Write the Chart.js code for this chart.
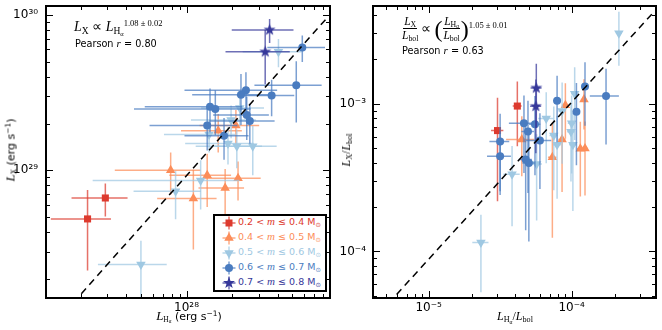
<!DOCTYPE html>
<html><head><meta charset="utf-8">
<script src="https://cdn.jsdelivr.net/npm/chart.js@4.4.1/dist/chart.umd.min.js"></script>
<style>
html,body{margin:0;padding:0;background:#fff}
body{width:662px;height:330px;position:relative;overflow:hidden;font-family:'DejaVu Sans',sans-serif;color:#000}
canvas{position:absolute;top:0}
.abs{position:absolute;white-space:nowrap}
.mi{font-family:'Liberation Serif',serif;font-style:italic}
.rm{font-family:'Liberation Serif',serif;font-style:normal}
sub{font-size:0.68em;vertical-align:-0.28em;line-height:0}
sup{font-size:0.68em;vertical-align:0.5em;line-height:0}
.frac{display:inline-flex;flex-direction:column;align-items:center;vertical-align:middle;line-height:11px}
.frac .num{border-bottom:1px solid #000;padding:0 1px 1px}
.frac .den{padding:1px 1px 0}
</style></head><body>
<canvas id="c1" width="336" height="330" style="left:0"></canvas>
<canvas id="c2" width="326" height="330" style="left:336px"></canvas>

<!-- left panel annotation -->
<div class="abs rm" style="left:74px;top:20px;font-size:14px;line-height:14px"><span class="mi">L</span><sub>X</sub> ∝ <span class="mi">L</span><sub>H<sub>α</sub></sub><sup style="font-size:8.5px;vertical-align:0.55em">1.08 ± 0.02</sup></div>
<div class="abs" style="left:75px;top:38px;font-size:9.7px;line-height:10px">Pearson <span class="mi" style="font-size:11px">r</span> = 0.80</div>

<!-- right panel annotation -->
<div class="abs rm" style="left:401px;top:16px;font-size:11.5px;display:flex;align-items:center;line-height:11px">
  <span class="frac"><span class="num"><span class="mi">L</span><sub>X</sub></span><span class="den"><span class="mi">L</span><sub>bol</sub></span></span>
  <span style="font-size:14px;margin:0 3px 0 2px">∝</span>
  <span style="font-size:24px;line-height:24px">(</span>
  <span class="frac"><span class="num"><span class="mi">L</span><sub>H<sub>α</sub></sub></span><span class="den"><span class="mi">L</span><sub>bol</sub></span></span>
  <span style="font-size:24px;line-height:24px">)</span>
  <span style="align-self:flex-start;font-size:8.5px;margin-top:4px">1.05 ± 0.01</span>
</div>
<div class="abs" style="left:402px;top:45px;font-size:9.7px;line-height:10px">Pearson <span class="mi" style="font-size:11px">r</span> = 0.63</div>

<!-- axis titles -->
<div class="abs" style="left:11px;top:150px;font-size:11px;line-height:12px;transform:translate(-50%,-50%) rotate(-90deg)"><span class="mi" style="font-size:13px">L</span><sub class="rm">X</sub> (erg s<sup>−1</sup>)</div>
<div class="abs" style="left:189px;top:310px;font-size:11px;line-height:12px;transform:translateX(-50%)"><span class="mi" style="font-size:13px">L</span><sub class="rm">H<sub>α</sub></sub> (erg s<sup>−1</sup>)</div>
<div class="abs rm" style="left:346px;top:150px;font-size:12px;line-height:12px;transform:translate(-50%,-50%) rotate(-90deg)"><span class="mi">L</span><sub>X</sub>/<span class="mi">L</span><sub>bol</sub></div>
<div class="abs rm" style="left:515px;top:310px;font-size:12px;line-height:12px;transform:translateX(-50%)"><span class="mi">L</span><sub>H<sub>α</sub></sub>/<span class="mi">L</span><sub>bol</sub></div>

<div id="leg" class="abs" style="left:213px;top:214px;width:114px;height:78px;border:2px solid #000;box-sizing:border-box;background:#fff"></div>

<script>
// ---------------- data ----------------
// each entry: [x, y, xErr, yErr]  (symmetric linear errors)
const leftRed = [[2.91e27,6.64e28,1.17e27,1.6e28],[2.22e27,4.87e28,0.95e27,2.6e28]];
const leftOrange = [
 [7.86e27,1.0e29,4.5e27,3e28],[1.37e28,9.3e28,6e27,3.5e28],[2.19e28,8.9e28,9e27,2.5e28],
 [1.8e28,7.7e28,6e27,2.5e28],[1.11e28,6.6e28,4.7e27,3.5e28],[1.62e28,1.8e29,7e27,5e28],
 [2.12e28,1.94e29,9e27,5e28]];
const leftLightBlue = [
 [4.05e28,5.8e29,1.7e28,1.2e29],[2.25e28,2.52e29,1.0e28,6e28],[1.97e28,2.11e29,9e27,5e28],
 [1.41e28,1.70e29,7e27,4e28],[1.88e28,1.49e29,9e27,4e28],[2.15e28,1.43e29,1.0e28,4e28],
 [2.74e28,1.43e29,1.2e28,5e28],[1.24e28,8.6e28,1.0e28,3e28],[8.47e27,7.35e28,4e27,2.5e28],
 [5.0e27,2.48e28,2.4e27,1.05e28]];
const leftBlue = [
 [5.82e28,6.17e29,2.4e28,1.2e29],[5.31e28,3.53e29,2.5e28,1.5e29],[3.65e28,3.03e29,1.5e28,8e28],
 [2.47e28,3.28e29,1.5e28,1.0e29],[2.29e28,3.06e29,1.2e28,1.1e29],[1.43e28,2.56e29,9e27,8e28],
 [1.55e28,2.48e29,1.1e28,8e28],[2.5e28,2.27e29,1.0e28,7e28],[2.62e28,2.08e29,1.2e28,6e28],
 [1.37e28,1.94e29,8e27,6e28],[1.77e28,1.67e29,8e27,5e28]];
const leftNavy = [[3.54e28,8.0e29,1.55e28,1.4e29],[3.31e28,5.78e29,1.5e28,2.2e29]];

const rightRed = [[4.17e-5,9.66e-4,3e-6,4.5e-4],[3.03e-5,6.59e-4,3e-6,4.4e-4]];
const rightOrange = [
 [4.48e-5,5.73e-4,1e-5,2.5e-4],[9.04e-5,9.8e-4,5e-6,4e-4],[1.22e-4,1.07e-3,6e-6,4e-4],
 [8.57e-5,5.73e-4,5e-6,3.2e-4],[7.33e-5,4.34e-4,5e-6,3.1e-4],[1.15e-4,4.96e-4,6e-6,2.6e-4],
 [1.24e-4,4.99e-4,6e-6,2.6e-4]];
const rightLightBlue = [
 [2.14e-4,3.01e-3,1e-5,1.2e-3],[1.05e-4,1.17e-3,6e-6,6e-4],[8.58e-5,8.93e-4,5e-6,5e-4],
 [6.64e-5,7.96e-4,8e-6,4e-4],[1.0e-4,7.38e-4,6e-6,4e-4],[9.89e-5,6.48e-4,6e-6,3.5e-4],
 [7.5e-5,6.1e-4,5e-6,3.5e-4],[7.91e-5,5.28e-4,5e-6,3e-4],[1.02e-4,5.28e-4,6e-6,3.4e-4],
 [5.69e-5,3.92e-4,5e-6,2.3e-4],[3.83e-5,3.33e-4,5e-6,1.85e-4],[2.32e-5,1.15e-4,3e-6,6.2e-5]];
const rightBlue = [
 [1.74e-4,1.13e-3,4e-5,6e-4],[1.24e-4,1.31e-3,6e-6,6e-4],[7.91e-5,1.05e-3,5e-6,5e-4],
 [1.08e-4,8.84e-4,6e-6,5e-4],[4.64e-5,7.4e-4,1e-5,4e-4],[5.54e-5,7.28e-4,5e-6,4e-4],
 [4.95e-5,6.49e-4,5e-6,4e-4],[6.0e-5,5.65e-4,1.2e-5,3e-4],[3.16e-5,5.56e-4,5e-6,3e-4],
 [3.16e-5,4.41e-4,6e-6,2e-4],[4.77e-5,4.19e-4,5e-6,2.8e-4],[5.02e-5,3.97e-4,5e-6,2.8e-4]];
const rightNavy = [[5.66e-5,1.28e-3,5e-6,5.9e-4],[5.62e-5,9.62e-4,5e-6,5e-4]];

const leftFitX = [2.02e27, 8.69e28], leftFitY = [1.61e28, 9.82e29];
const rightFitX = [5.97e-6, 3.71e-4], rightFitY = [5.12e-5, 4.14e-3];

const leftXRange = [1.18e27, 8.87e28], leftYRange = [1.51e28, 1.14e30];
const rightXRange = [4.08e-6, 3.89e-4], rightYRange = [4.84e-5, 4.6e-3];

const leftXTicks = [1e28], leftXTickLabels = ['10²⁸'];
const leftYTicks = [1e29, 1e30], leftYTickLabels = ['10²⁹', '10³⁰'];
const rightXTicks = [1e-5, 1e-4], rightXTickLabels = ['10⁻⁵', '10⁻⁴'];
const rightYTicks = [1e-4, 1e-3], rightYTickLabels = ['10⁻⁴', '10⁻³'];

const legendLow = ['0.2', '0.4', '0.5', '0.6', '0.7'];
const legendHigh = ['0.4', '0.5', '0.6', '0.7', '0.8'];

// ---------------- styling ----------------
const COL = {red:'#dd3a2e', orange:'#fc8d59', lblue:'#9fc8e2', blue:'#4a7cc0', navy:'#36389a'};
function rgba(hex, a){const n=parseInt(hex.slice(1),16);return `rgba(${n>>16},${(n>>8)&255},${n&255},${a})`;}
function starCanvas(color){
  const c=document.createElement('canvas'); c.width=c.height=13; const g=c.getContext('2d');
  g.fillStyle=color; g.beginPath();
  for(let i=0;i<10;i++){const r=i%2?2.6:6.3;const a=-Math.PI/2+i*Math.PI/5;g.lineTo(6.5+r*Math.cos(a),6.5+r*Math.sin(a));}
  g.closePath(); g.fill(); return c;
}
const STAR = starCanvas(COL.navy);
const groupStyles = [
  {color:COL.red, style:'rect', r:5, rot:0},
  {color:COL.orange, style:'triangle', r:5.5, rot:0},
  {color:COL.lblue, style:'triangle', r:5.5, rot:180},
  {color:COL.blue, style:'circle', r:4, rot:0},
  {color:COL.navy, style:STAR, r:6, rot:0}
];

function minors(min, max){
  const out=[];
  for(let e=Math.floor(Math.log10(min)); e<=Math.ceil(Math.log10(max)); e++)
    for(let k=2;k<=9;k++){const v=k*Math.pow(10,e); if(v>min*1.0001 && v<max*0.9999) out.push(v);}
  return out;
}

const errPlugin = {
  id:'errbars',
  beforeDatasetDraw(chart, args){
    const d = chart.data.datasets[args.index]; if(!d.err) return;
    const xs=chart.scales.x, ys=chart.scales.y, ctx=chart.ctx, a=chart.chartArea;
    ctx.save(); ctx.beginPath(); ctx.rect(a.left,a.top,a.right-a.left,a.bottom-a.top); ctx.clip();
    ctx.strokeStyle=d.errColor; ctx.lineWidth=1.5;
    d.data.forEach((p,i)=>{
      const [ex,ey]=d.err[i];
      const px=xs.getPixelForValue(p.x), py=ys.getPixelForValue(p.y);
      const x0=xs.getPixelForValue(Math.max(p.x-ex,p.x*1e-3)), x1=xs.getPixelForValue(p.x+ex);
      const y0=ys.getPixelForValue(Math.max(p.y-ey,p.y*1e-3)), y1=ys.getPixelForValue(p.y+ey);
      ctx.beginPath(); ctx.moveTo(x0,py); ctx.lineTo(x1,py); ctx.moveTo(px,y0); ctx.lineTo(px,y1); ctx.stroke();
    });
    ctx.restore();
  }
};

function framePlugin(xMaj, yMaj, xr, yr){
  const xMin=minors(xr[0],xr[1]), yMin=minors(yr[0],yr[1]);
  return {
    id:'frame',
    afterDraw(chart){
      const ctx=chart.ctx, a=chart.chartArea, xs=chart.scales.x, ys=chart.scales.y;
      ctx.save(); ctx.strokeStyle='#000'; ctx.lineWidth=1;
      const line=(x0,y0,x1,y1)=>{ctx.beginPath();ctx.moveTo(x0,y0);ctx.lineTo(x1,y1);ctx.stroke();};
      const xt=(v,L)=>{const p=Math.round(xs.getPixelForValue(v))+0.5; line(p,a.bottom,p,a.bottom-L); line(p,a.top,p,a.top+L);};
      const yt=(v,L)=>{const p=Math.round(ys.getPixelForValue(v))+0.5; line(a.left,p,a.left+L,p); line(a.right,p,a.right-L,p);};
      xMaj.forEach(v=>xt(v,7)); xMin.forEach(v=>xt(v,4));
      yMaj.forEach(v=>yt(v,7)); yMin.forEach(v=>yt(v,4));
      ctx.lineWidth=2; ctx.strokeRect(a.left,a.top,a.right-a.left,a.bottom-a.top);
      ctx.restore();
    }
  };
}

function buildChart(id, lists, fitX, fitY, xr, yr, xt, xtl, yt, ytl, yAxisW, padR, yPad){
  const datasets=[{
    data: fitX.map((x,i)=>({x, y:fitY[i]})), showLine:true, borderColor:'#000', borderWidth:1.5,
    borderDash:[7,5], pointRadius:0, order:0, fill:false
  }];
  lists.forEach((list,gi)=>{
    const s=groupStyles[gi];
    datasets.push({
      data:list.map(p=>({x:p[0],y:p[1]})), err:list.map(p=>[p[2],p[3]]),
      backgroundColor:s.color, borderColor:s.color, borderWidth:0, pointStyle:s.style,
      pointRadius:s.r, pointRotation:s.rot, order:5-gi, errColor:rgba(s.color,0.72)
    });
  });
  return new Chart(document.getElementById(id), {
    type:'scatter', data:{datasets},
    options:{
      responsive:false, animation:false, events:[],
      layout:{padding:{top:3,right:padR,left:0,bottom:0}},
      plugins:{legend:{display:false}, tooltip:{enabled:false}},
      scales:{
        x:{type:'logarithmic', min:xr[0], max:xr[1], bounds:'data',
           grid:{display:false, drawTicks:false}, border:{display:false},
           ticks:{autoSkip:false, maxRotation:0, padding:3, color:'#000', font:{family:'DejaVu Sans', size:12},
                  callback:(v,i)=>xtl[i]},
           afterBuildTicks:s=>{s.ticks=xt.map(v=>({value:v}));},
           afterFit:s=>{s.height=32; s.paddingLeft=0; s.paddingRight=0;}},
        y:{type:'logarithmic', min:yr[0], max:yr[1], bounds:'data',
           grid:{display:false, drawTicks:false}, border:{display:false},
           ticks:{autoSkip:false, padding:yPad, color:'#000', font:{family:'DejaVu Sans', size:12},
                  callback:(v,i)=>ytl[i]},
           afterBuildTicks:s=>{s.ticks=yt.map(v=>({value:v}));},
           afterFit:s=>{s.width=yAxisW; s.paddingTop=0; s.paddingBottom=0;}}
      }
    },
    plugins:[errPlugin, framePlugin(xt, yt, xr, yr)]
  });
}

buildChart('c1', [leftRed,leftOrange,leftLightBlue,leftBlue,leftNavy], leftFitX, leftFitY,
  leftXRange, leftYRange, leftXTicks, leftXTickLabels, leftYTicks, leftYTickLabels, 46, 3, 8);
buildChart('c2', [rightRed,rightOrange,rightLightBlue,rightBlue,rightNavy], rightFitX, rightFitY,
  rightXRange, rightYRange, rightXTicks, rightXTickLabels, rightYTicks, rightYTickLabels, 37, 4, 7);

// ---------------- legend ----------------
(function(){
  const ns='http://www.w3.org/2000/svg';
  const leg=document.body;
  const shapes=[
    '<rect x="3.5" y="3.5" width="7" height="7"/>',
    '<polygon points="7,1.5 11.76,9.75 2.24,9.75"/>',
    '<polygon points="7,12.5 11.76,4.25 2.24,4.25"/>',
    '<circle cx="7" cy="7" r="4"/>',
    (()=>{let s='';for(let i=0;i<10;i++){const r=i%2?2.6:6.3;const a=-Math.PI/2+i*Math.PI/5;s+=(7+r*Math.cos(a)).toFixed(2)+','+(7+r*Math.sin(a)).toFixed(2)+' ';}return '<polygon points="'+s+'"/>';})()
  ];
  legendLow.forEach((lo,i)=>{
    const s=groupStyles[i]; const cy=221.5+15*i;
    const svg=document.createElement('div');
    svg.className='abs'; svg.style.left='222px'; svg.style.top=(cy-7)+'px';
    svg.innerHTML=`<svg xmlns="${ns}" width="14" height="14"><g stroke="${rgba(s.color,0.72)}" stroke-width="1.5"><line x1="0.5" y1="7" x2="13.5" y2="7"/><line x1="7" y1="0.5" x2="7" y2="13.5"/></g><g fill="${s.color}">${shapes[i]}</g></svg>`;
    leg.appendChild(svg);
    const t=document.createElement('div');
    t.className='abs'; t.style.left='238px'; t.style.top=(cy-5.5)+'px';
    t.style.fontSize='9.5px'; t.style.lineHeight='11px'; t.style.color=s.color;
    t.innerHTML=`${lo} &lt; <span class="mi" style="font-size:11px">m</span> ≤ ${legendHigh[i]} M<sub>⊙</sub>`;
    leg.appendChild(t);
  });
})();
</script>
</body></html>
